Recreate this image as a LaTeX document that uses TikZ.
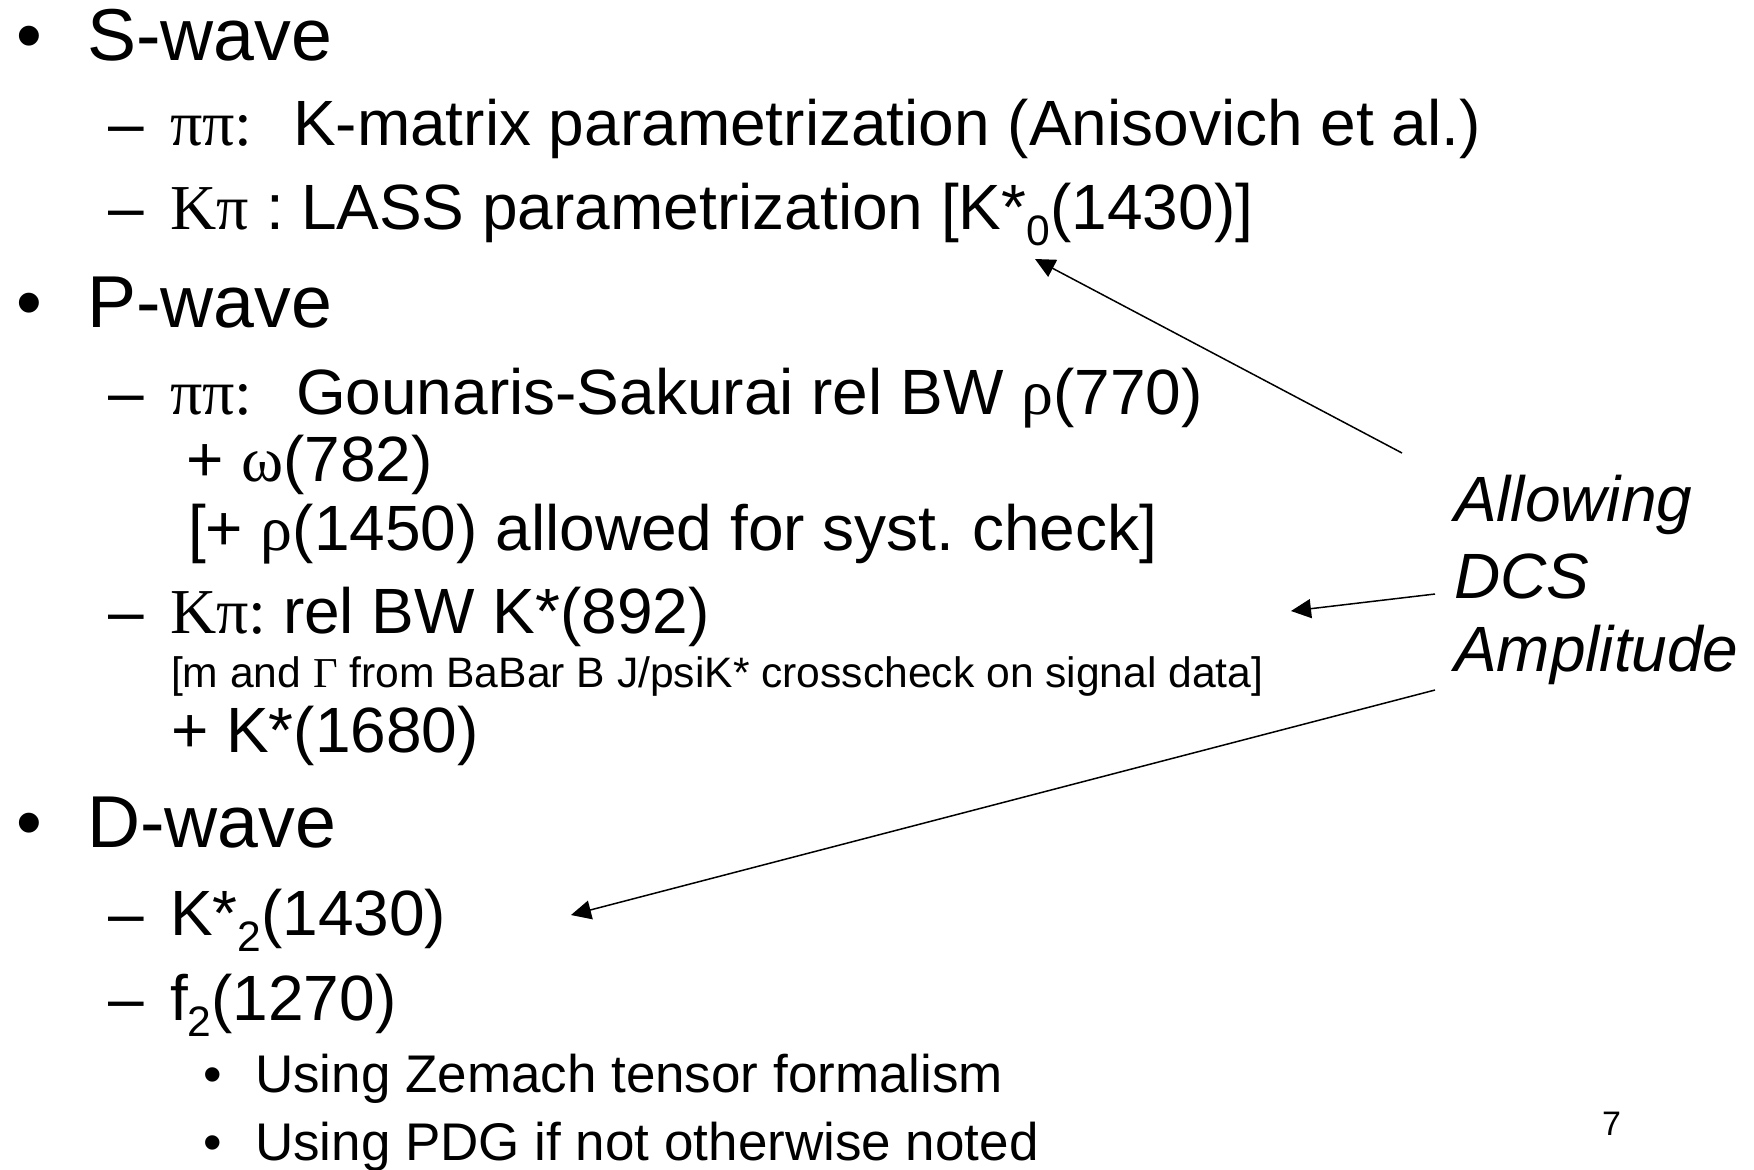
\documentclass[tikz,border=0pt]{standalone}
\usepackage{fontspec}
\setmainfont{Liberation Sans}
\newfontfamily\grk{Liberation Serif}
\usetikzlibrary{arrows.meta}
\frenchspacing
\newcommand\sbs[1]{\raisebox{-8pt}{\fontsize{21.3}{24}\selectfont #1}}
\begin{document}
\begin{tikzpicture}[x=0.5pt,y=-0.5pt,
  txt/.style={anchor=base west,inner sep=0pt,outer sep=0pt},
  lone/.style={txt,font=\fontsize{36.75}{40}\selectfont},
  ltwo/.style={txt,font=\fontsize{32}{36}\selectfont},
  lsmall/.style={txt,font=\fontsize{21.3}{24}\selectfont},
  lthree/.style={txt,font=\fontsize{26.5}{30}\selectfont},
  side/.style={txt,font=\fontsize{32}{36}\selectfont\itshape},
  pg/.style={txt,font=\fontsize{17}{20}\selectfont},
  arr/.style={line width=0.75pt,-{Triangle[length=10pt,width=9.5pt]}}]
\useasboundingbox (0,0) rectangle (1754,1169);
% S-wave
\node[lone] (b1) at (17,60) {•};
\node[lone] (swave) at (87,60) {S-wave};
\node[ltwo] (d1) at (108,145) {–};
\node[ltwo] (pp1) at (170,145) {\grk ππ:};
\node[ltwo] (kmat) at (293,145) {K-matrix parametrization (Anisovich et al.)};
\node[ltwo] (d2) at (108,229) {–};
\node[ltwo] (kp1) at (170,229) {{\grk Kπ} :};
\node[ltwo] (lass) at (301,229) {LASS parametrization [K*\sbs{0}(1430)]};
% P-wave
\node[lone] (b2) at (17,327) {•};
\node[lone] (pwave) at (87,327) {P-wave};
\node[ltwo] (d3) at (108,414) {–};
\node[ltwo] (pp2) at (170,414) {\grk ππ:};
\node[ltwo] (gs) at (296,414) {Gounaris-Sakurai rel BW {\grk ρ}(770)};
\node[ltwo] (omega) at (186,481) {+ {\grk ω}(782)};
\node[ltwo] (rho) at (188,550) {[+ {\grk ρ}(1450) allowed for syst. check]};
\node[ltwo] (d4) at (108,633) {–};
\node[ltwo] (kp2) at (170,633) {\grk Kπ:};
\node[ltwo] (kst) at (283,633) {rel BW K*(892)};
\node[lsmall] (babar) at (171,687) {[m and {\grk Γ} from BaBar B J/psiK* crosscheck on signal data]};
\node[ltwo] (k1680) at (171,752) {+ K*(1680)};
% D-wave
\node[lone] (b3) at (17,847) {•};
\node[lone] (dwave) at (87,847) {D-wave};
\node[ltwo] (d5) at (108,935) {–};
\node[ltwo] (k2) at (170,935) {K*\sbs{2}(1430)};
\node[ltwo] (d6) at (108,1020) {–};
\node[ltwo] (f2) at (170,1020) {f\sbs{2}(1270)};
\node[lthree] (b4) at (203,1092) {•};
\node[lthree] (zem) at (255,1092) {Using Zemach tensor formalism};
\node[lthree] (b5) at (203,1160) {•};
\node[lthree] (pdg) at (255,1160) {Using PDG if not otherwise noted};
% side text
\node[side] (allow) at (1454,521) {Allowing};
\node[side] (dcs) at (1454,598) {DCS};
\node[side] (ampl) at (1454,671) {Amplitude};
\node[pg] (pnum) at (1602,1135) {7};
% arrows
\coordinate (a1s) at (1402,453);
\coordinate (a1e) at (1035,259);
\coordinate (a2s) at (1435,594);
\coordinate (a2e) at (1291,611);
\coordinate (a3s) at (1435,690);
\coordinate (a3e) at (571,915);
\draw[arr] (a1s) -- (a1e);
\draw[arr] (a2s) -- (a2e);
\draw[arr] (a3s) -- (a3e);
\end{tikzpicture}
\end{document}
